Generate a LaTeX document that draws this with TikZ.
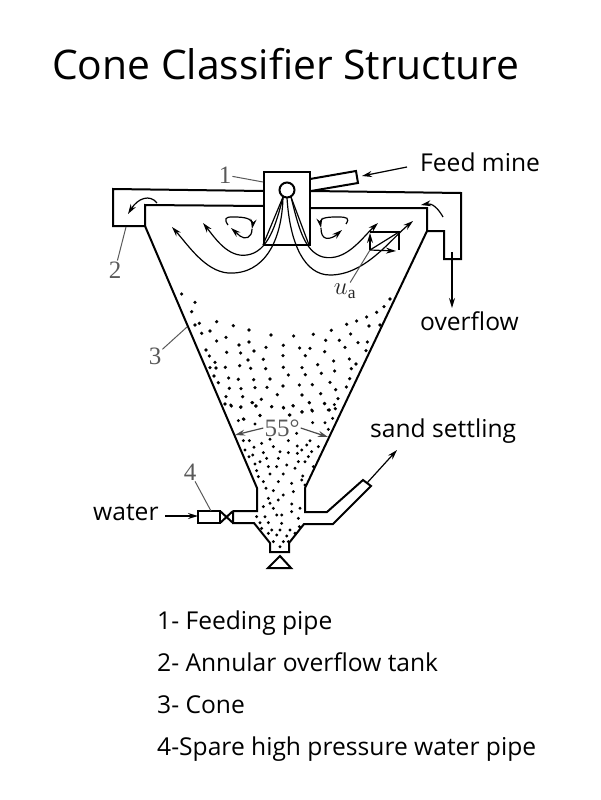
\documentclass[tikz,border=0pt]{standalone}
\usepackage{fontspec}
\setmainfont{Liberation Serif}
\newfontfamily\labelfont{Open Sans}
\usetikzlibrary{arrows.meta}
\tikzset{
  wall/.style={line width=2pt, line join=miter},
  thinline/.style={line width=1.2pt},
  flow/.style={line width=1.2pt, -{Stealth[length=10pt,width=6pt]}},
  leader/.style={line width=1pt, black!65},
  caption/.style={font=\labelfont\fontsize{24.6}{29}\selectfont, anchor=base west, inner sep=0pt},
  partno/.style={font=\fontsize{25}{28}\selectfont, text=black!65, inner sep=1pt}
}
\begin{document}
\begin{tikzpicture}[x=1pt,y=-1pt]
\useasboundingbox (0,0) rectangle (600,800);

\node[font=\labelfont\fontsize{40.8}{48}\selectfont, anchor=base west, inner sep=0pt] (title) at (52,79) {Cone Classifier Structure};

% tank and cone
\draw[wall] (263,191) -- (113,189) -- (113,226) -- (145,226) -- (145,205) -- (263,206);
\draw[wall] (311,191) -- (461,193) -- (461,259) -- (444,259) -- (444,231) -- (427,231) -- (427,208) -- (311,208);
\draw[wall] (145,226) -- (257,488) -- (257,511) -- (233,511);
\draw[wall] (427,231) -- (305,488) -- (305,512) -- (327,512) -- (363,480) -- (371,486) -- (333,524) -- (304,524) -- (289,543) -- (289,552) -- (270,552) -- (270,543) -- (254,523) -- (233,523) -- (233,511);

% feeding pipe
\draw[wall] (263.5,172) rectangle (310,245);
\draw[wall] (287,190) circle (7.5);
\draw[wall] (310,179) -- (356,171) -- (358,183) -- (311,191);
\draw[thinline] (283,197) -- (263,245);
\draw[thinline] (291,197) -- (309,245);

% valve and support
\draw[wall] (198,511) rectangle (220,523);
\draw[wall] (220,511) -- (233,523);
\draw[wall] (220,523) -- (233,511);
\draw[wall] (280,556) -- (268,568) -- (291,568) -- cycle;

% flow lines
\draw[flow] (283,197) .. controls (276,225) and (268,252) .. (247,255) .. controls (228,258) and (215,238) .. (203,223);
\draw[flow] (283,197) .. controls (282,240) and (265,275) .. (228,273) .. controls (205,271) and (188,245) .. (172,227);
\draw[flow] (291,197) .. controls (298,225) and (304,252) .. (323,257) .. controls (346,262) and (362,238) .. (378,223);
\draw[flow] (287,198) .. controls (290,245) and (305,275) .. (330,275) .. controls (365,275) and (390,240) .. (413,221);

% vortices
\draw[flow] (228,225) .. controls (224,219) and (225,217) .. (232,217) .. controls (240,217) and (250,217) .. (253,223) -- (252,229);
\draw[flow] (252,229) .. controls (252,238) and (245,240) .. (240,236) -- (231,228);
\draw[flow] (346,224) .. controls (350,218) and (347,217) .. (338,217) .. controls (330,217) and (321,217) .. (320,222) -- (321,228);
\draw[flow] (321,228) .. controls (321,240) and (328,240) .. (335,236) -- (342,230);

% small arcs over the weirs
\draw[flow] (157,203) .. controls (150,194) and (138,198) .. (128,214);
\draw[flow] (443,217) .. controls (438,208) and (432,203) .. (421,205);

% velocity triangle
\draw[thinline] (370,232) -- (399,232) -- (399,250);
\draw[flow] (370,250) -- (370,233);
\draw[flow] (370,250) -- (396,251);
\draw[thinline] (370,250) -- (399,232);

% labels with leaders
\coordinate (feedstart) at (407,167);
\coordinate (feedtip) at (362,176);
\coordinate (overflowtop) at (452,252);
\coordinate (overflowtip) at (452,308);
\coordinate (sandend) at (367,483);
\coordinate (sandtip) at (397,450);
\coordinate (waterstart) at (165,516);
\coordinate (watertip) at (198,516);
\coordinate (uatip) at (370,250);
\coordinate (onetip) at (263,182);
\coordinate (twotip) at (126,227);
\coordinate (threetip) at (187,327);
\coordinate (fourtip) at (211,511);
\coordinate (angleleft) at (235,435);
\coordinate (angleright) at (328,437);

\node[caption] (feed) at (420,171) {Feed mine};
\node[caption] (overflow) at (420,330) {overflow};
\node[caption] (sand) at (370,437) {sand settling};
\node[caption] (water) at (93,520) {water};
\node[partno] (one) at (225,175) {1};
\node[partno] (two) at (115,270) {2};
\node[partno] (three) at (155,356) {3};
\node[partno] (four) at (190,472) {4};
\node[partno] (angle) at (282,428) {55°};
\node[partno, text=black!85] (ua) at (345,291) {$u_{\mathrm{a}}$};

\draw[flow] (feedstart) -- (feedtip);
\draw[flow] (overflowtop) -- (overflowtip);
\draw[flow] (sandend) -- (sandtip);
\draw[flow] (waterstart) -- (watertip);
\draw[leader] (one) -- (onetip);
\draw[leader] (two) -- (twotip);
\draw[leader] (three) -- (threetip);
\draw[leader] (four) -- (fourtip);
\draw[leader] (ua) -- (uatip);
\draw[flow, black!70] (angle.west) -- (angleleft);
\draw[flow, black!70] (angle.east) -- (angleright);

% sand grains, upper part
\foreach \x/\y in {155/72,195/97,185/125,195/165,208/160,260/155,310/167,357/180,215/190,240/183,288/202,260/213,423/195,491/198,550/193,604/181,650/163,680/153,710/141,740/127,762/110,780/87,717/168,750/165,662/192,587/211,628/211,684/218,712/216,645/232,708/242,357/216,327/225,408/232,460/226,509/234,540/235,584/245,228/240,238/258,290/247,332/249,372/243,459/257,526/257,354/270,400/268,611/273,658/267,255/277,240/293,258/294,286/292,329/287,362/295,407/296,460/292,516/293,563/284,614/303,664/296,678/282,252/318,265/338,296/324,325/328,371/329,420/327,475/315,526/314,574/310,659/326,600/337,298/355,333/356,375/353,411/352,459/348,508/345,547/344,649/351,617/359,288/380,338/380,394/388,442/374,516/375,572/371,624/386,285/402,304/408,332/412,366/398,378/408,425/410,461/414,489/407,538/398,584/401,598/420,616/416,547/423,516/426,478/435,390/437,340/447}
  \fill ({130+\x/3},{270+\y/3}) circle (1.8);

% sand grains, lower part
\foreach \x/\y in {152/15,183/20,218/8,227/18,275/20,310/22,340/18,388/8,433/10,463/14,366/35,395/30,445/30,240/46,175/62,192/58,330/45,225/72,398/68,435/68,458/55,445/88,350/100,190/122,208/122,245/130,270/118,325/122,390/122,352/138,380/135,415/140,222/142,195/150,250/158,280/140,300/155,325/158,365/150,395/155,218/165,207/170,260/175,295/175,352/160,385/170,240/185,225/192,265/200,290/200,320/195,355/185,375/185,400/200,230/212,235/230,270/222,310/222,345/205,368/228,250/245,295/245,335/250,365/240,258/265,280/272,310/285,340/275,375/255,265/295,295/300,335/312,270/310,250/320,280/325,305/345,335/335,360/325,230/350,255/350,290/345,240/368,265/368,305/370,355/355,275/390,300/390,330/390,358/380,245/385,290/405,320/408,345/400,265/400,310/425,280/425,300/440,325/425}
  \fill ({180+\x/3},{400+\y/3}) circle (1.6);

% key
\node[caption] (keyone) at (157,629) {1- Feeding pipe};
\node[caption] (keytwo) at (157,671) {2- Annular overflow tank};
\node[caption] (keythree) at (157,713) {3- Cone};
\node[caption] (keyfour) at (157,755) {4-Spare high pressure water pipe};
\end{tikzpicture}
\end{document}
